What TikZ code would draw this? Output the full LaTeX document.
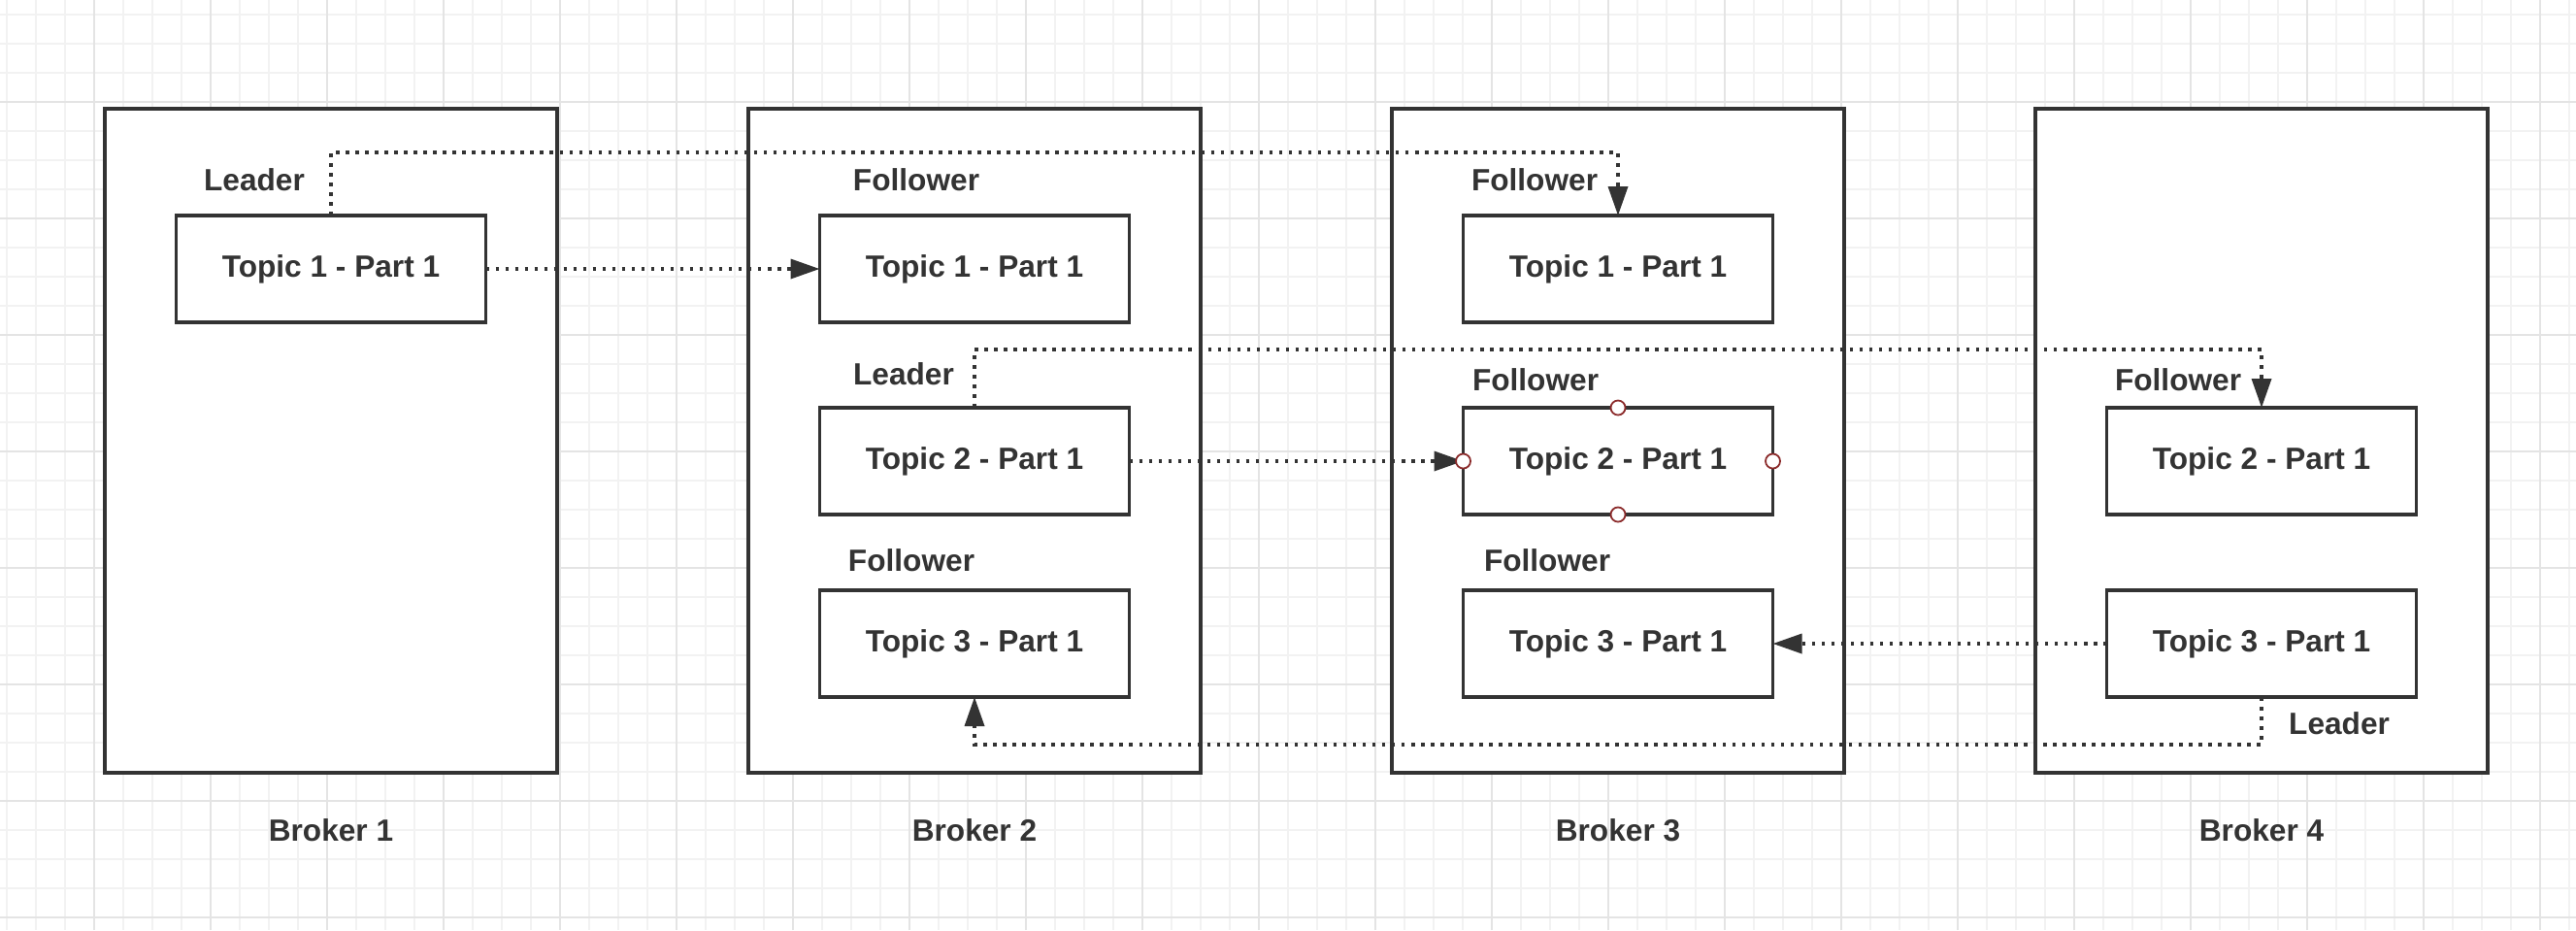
\documentclass[tikz,border=0pt]{standalone}
\usepackage{fontspec}
\setmainfont{Liberation Sans}
\usetikzlibrary{arrows.meta}
\definecolor{ink}{HTML}{333333}
\definecolor{gridlo}{HTML}{F2F2F2}
\definecolor{gridhi}{HTML}{E4E4E4}
\definecolor{handle}{HTML}{8B2A2A}

\begin{document}
\begin{tikzpicture}[
  broker/.style={draw=ink, line width=1.1pt, fill=white, minimum width=4.66cm, minimum height=6.84cm, inner sep=0, outer sep=0},
  part/.style={draw=ink, line width=1.1pt, fill=white, minimum width=3.19cm, minimum height=1.10cm, inner sep=0, outer sep=0, text=ink, font=\fontsize{9}{11}\selectfont\bfseries},
  role/.style={text=ink, font=\fontsize{9}{11}\selectfont\bfseries, inner sep=0},
  link/.style={draw=ink, line width=1pt, dash pattern=on 1pt off 1.85pt, -{Triangle[length=0.3cm, width=0.2cm]}},
  knob/.style={circle, draw=handle, fill=white, line width=0.5pt, minimum size=0.15cm, inner sep=0}
]
\fill[white] (0,0) rectangle (26.54,-9.58);
\useasboundingbox (0,0) rectangle (26.54,-9.58);
\begin{scope}[shift={(0.97,-1.05)}]
\draw[gridlo, line width=0.6pt, step=0.3] (-0.97,-8.53) grid (25.57,1.05);
\draw[gridhi, line width=0.6pt, step=1.2] (-0.97,-8.53) grid (25.57,1.05);
\end{scope}

\node[broker] (b1) at (3.41,-4.54) {};
\node[broker] (b2) at (10.04,-4.54) {};
\node[broker] (b3) at (16.67,-4.54) {};
\node[broker] (b4) at (23.30,-4.54) {};

\node[part] (t11) at (3.41,-2.77) {Topic 1 - Part 1};
\node[part] (t21) at (10.04,-2.77) {Topic 1 - Part 1};
\node[part] (t22) at (10.04,-4.75) {Topic 2 - Part 1};
\node[part] (t23) at (10.04,-6.63) {Topic 3 - Part 1};
\node[part] (t31) at (16.67,-2.77) {Topic 1 - Part 1};
\node[part] (t32) at (16.67,-4.75) {Topic 2 - Part 1};
\node[part] (t33) at (16.67,-6.63) {Topic 3 - Part 1};
\node[part] (t42) at (23.30,-4.75) {Topic 2 - Part 1};
\node[part] (t43) at (23.30,-6.63) {Topic 3 - Part 1};

\path[draw,link] (t11.north) -- ++(0,0.65) -| (t31.north);
\path[draw,link] (t11) -- (t21);
\path[draw,link] (t22.north) -- ++(0,0.6) -| (t42.north);
\path[draw,link] (t22) -- (t32);
\path[draw,link] (t43) -- (t33);
\path[draw,link] (t43.south) -- ++(0,-0.49) -| (t23.south);

\node[knob] (k1) at (t32.north) {};
\node[knob] (k2) at (t32.south) {};
\node[knob] (k3) at (t32.east) {};
\node[knob] (k4) at (t32.west) {};

\node[role] (r11) at (2.62,-1.85) {Leader};
\node[role] (r21) at (9.44,-1.85) {Follower};
\node[role] (r22) at (9.31,-3.85) {Leader};
\node[role] (r23) at (9.39,-5.77) {Follower};
\node[role] (r31) at (15.81,-1.85) {Follower};
\node[role] (r32) at (15.82,-3.91) {Follower};
\node[role] (r33) at (15.94,-5.77) {Follower};
\node[role] (r42) at (22.44,-3.91) {Follower};
\node[role] (r43) at (24.10,-7.45) {Leader};

\node[role] (n1) at (3.41,-8.55) {Broker 1};
\node[role] (n2) at (10.04,-8.55) {Broker 2};
\node[role] (n3) at (16.67,-8.55) {Broker 3};
\node[role] (n4) at (23.30,-8.55) {Broker 4};
\end{tikzpicture}
\end{document}
